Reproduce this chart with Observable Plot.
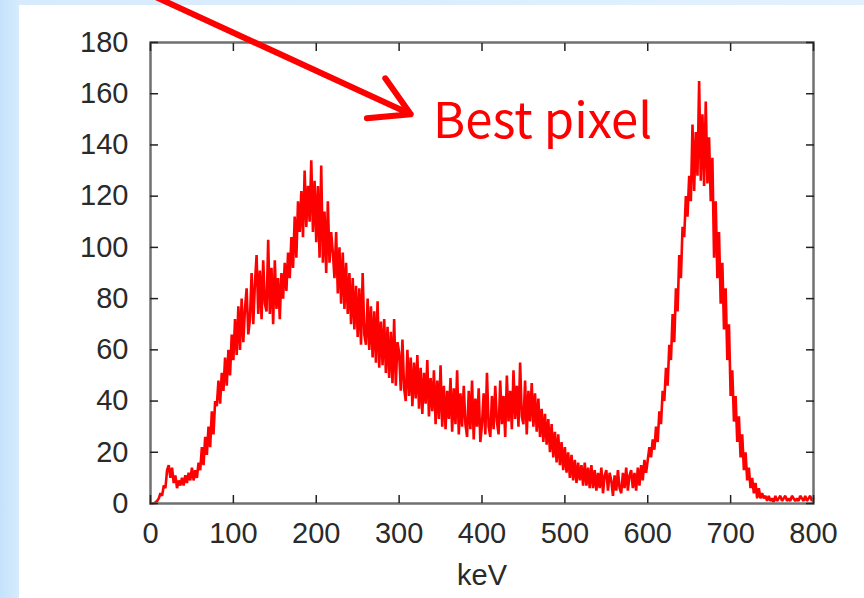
<!DOCTYPE html>
<html>
<head>
<meta charset="utf-8">
<script src="https://cdn.jsdelivr.net/npm/d3@7"></script>
<script src="https://cdn.jsdelivr.net/npm/@observablehq/plot@0.6"></script>
<style>
  html, body { margin: 0; padding: 0; width: 864px; height: 598px; overflow: hidden; }
  body { background: linear-gradient(to right, #c4e2fb 0px, #d6ebfd 19px, #e2f1fe 864px); position: relative; }
  #panel { position: absolute; left: 19px; top: 5px; right: 0; bottom: 0; background: #ffffff; }
  #chart { position: absolute; left: 0; top: 0; }
</style>
</head>
<body>
<div id="panel"></div>
<div id="chart"></div>
<script>
// Energy spectrum of the best pixel: counts per 2 keV channel, 0–800 keV.
const channelWidthKeV = 2;
const counts = [
  0, 0, 0, 0.5, 1, 2, 4, 3, 7, 6,
  13, 15, 10, 14, 8, 11, 6, 9, 7, 10,
  7, 11, 8, 12, 9, 14, 9, 13, 10, 16,
  13, 22, 15, 26, 19, 30, 22, 36, 27, 40,
  38, 48, 39, 51, 44, 57, 46, 60, 50, 66,
  56, 72, 58, 77, 60, 80, 63, 76, 84, 66,
  72, 90, 70, 86, 97, 74, 91, 72, 95, 78,
  75, 103, 74, 92, 70, 95, 76, 88, 72, 90,
  80, 94, 83, 98, 88, 104, 92, 112, 96, 118,
  106, 122, 104, 130, 108, 124, 110, 134, 106, 126,
  102, 124, 96, 132, 94, 114, 90, 118, 94, 106,
  98, 88, 106, 82, 100, 78, 98, 76, 94, 74,
  90, 70, 88, 68, 85, 65, 84, 62, 90, 66,
  62, 80, 60, 77, 57, 75, 55, 79, 53, 71,
  54, 72, 51, 69, 49, 67, 47, 72, 46, 63,
  59, 44, 64, 45, 40, 60, 42, 57, 38, 55,
  41, 58, 37, 53, 35, 51, 39, 56, 34, 49,
  36, 52, 31, 48, 33, 54, 30, 46, 29, 44,
  33, 49, 28, 45, 31, 52, 27, 43, 30, 46,
  31, 26, 44, 29, 48, 25, 41, 30, 45, 24,
  31, 43, 27, 51, 30, 26, 42, 29, 46, 32,
  27, 48, 31, 42, 26, 50, 32, 44, 29, 52,
  33, 46, 30, 55, 34, 31, 48, 27, 44, 32,
  47, 30, 43, 28, 41, 26, 37, 24, 35, 23,
  33, 20, 31, 18, 28, 16, 27, 15, 24, 13,
  22, 12, 20, 10, 19, 9, 17, 8, 16, 9,
  15, 7, 16, 7, 14, 6, 15, 6, 13, 5,
  12, 6, 14, 4, 11, 13, 5, 12, 9, 3,
  11, 5, 13, 6, 4, 12, 6, 14, 5, 11,
  13, 6, 12, 5, 14, 7, 15, 9, 17, 12,
  17, 22, 18, 25, 21, 30, 24, 36, 31, 44,
  40, 53, 46, 62, 56, 74, 63, 84, 75, 97,
  88, 108, 104, 120, 112, 128, 118, 148, 122, 145,
  128, 165, 126, 152, 124, 157, 125, 143, 118, 135,
  96, 118, 88, 106, 78, 94, 68, 84, 56, 70,
  42, 52, 32, 42, 24, 34, 18, 27, 13, 20,
  9, 14, 6, 10, 4, 8, 2, 6, 2, 4,
  2, 3, 1, 3, 1, 2, 0.5, 3, 1, 2,
  3, 1, 2, 3, 1, 2, 1, 3, 2, 1,
  2, 1, 3, 2, 1, 3, 1, 2, 3, 1,
  2
];

const xTicks = [0, 100, 200, 300, 400, 500, 600, 700, 800];
const yTicks = [0, 20, 40, 60, 80, 100, 120, 140, 160, 180];
const xLabel = "keV";

// Callout: arrow pointing at the spectrum, with its caption
const calloutText = ["Best pixel"];
const calloutTextAt = {keV: 341, count: 149};
const calloutArrow = [{x1: -2, y1: 199, x2: 314, y2: 152}];

const spectrum = counts.map((c, i) => ({keV: i * channelWidthKeV, count: c}));

const tickFont = "'Liberation Sans', Arial, Helvetica, sans-serif";
const blankLabel = () => "";

const chart = Plot.plot({
  width: 864,
  height: 598,
  marginLeft: 150,
  marginRight: 51,
  marginTop: 42,
  marginBottom: 95,
  style: {background: "transparent", fontFamily: tickFont, overflow: "visible"},
  x: {domain: [0, 800], ticks: xTicks},
  y: {domain: [0, 180], ticks: yTicks},
  marks: [
    Plot.line(spectrum, {x: "keV", y: "count", stroke: "#ff0000", strokeWidth: 2.6, strokeLinejoin: "miter"}),
    Plot.frame({stroke: "#707070", strokeWidth: 2.5}),
    // inward ticks on all four sides
    Plot.axisX(xTicks, {anchor: "bottom", tickSize: -8, tickFormat: blankLabel, stroke: "#222", strokeWidth: 1.5, label: null}),
    Plot.axisX(xTicks, {anchor: "top", tickSize: -8, tickFormat: blankLabel, stroke: "#222", strokeWidth: 1.5, label: null}),
    Plot.axisY(yTicks, {anchor: "left", tickSize: -8, tickFormat: blankLabel, stroke: "#222", strokeWidth: 1.5, label: null}),
    Plot.axisY(yTicks, {anchor: "right", tickSize: -8, tickFormat: blankLabel, stroke: "#222", strokeWidth: 1.5, label: null}),
    // tick labels
    Plot.axisX(xTicks, {anchor: "bottom", tickSize: 0, tickPadding: 19, fontSize: 29, fill: "#2a2a2a", label: null}),
    Plot.axisY(yTicks, {anchor: "left", tickSize: 0, tickPadding: 22, fontSize: 29, fill: "#2a2a2a", label: null}),
    Plot.text([xLabel], {frameAnchor: "bottom", dy: 81, fontSize: 29, fill: "#2a2a2a"}),
    // callout
    Plot.arrow(calloutArrow, {x1: "x1", y1: "y1", x2: "x2", y2: "y2", stroke: "#ff0000", strokeWidth: 6, headLength: 11, headAngle: 60, clip: false}),
    Plot.text(calloutText, {x: () => calloutTextAt.keV, y: () => calloutTextAt.count, textAnchor: "start", fontSize: 49, fill: "#ff0000", fontFamily: "'Noto Sans CJK JP', 'Liberation Sans', sans-serif"})
  ]
});

document.getElementById("chart").appendChild(chart);
</script>
</body>
</html>
